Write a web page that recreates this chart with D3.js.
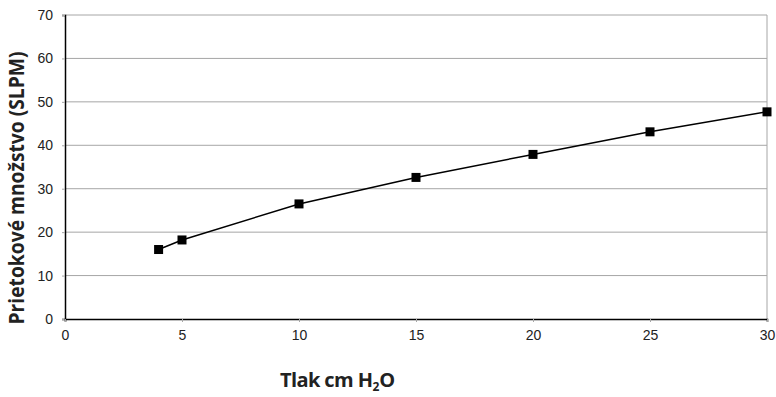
<!DOCTYPE html>
<head>
  <meta charset="utf-8">
  <script src="https://d3js.org/d3.v7.min.js"></script>
  <style>
    body { margin:0; background:white; }
    svg { display:block; }
    .tick text { font-family: "Liberation Sans", Arial, sans-serif; font-size: 14px; fill: #222; }
    .lbl { font-family: "Open Sans", sans-serif; font-weight: bold; fill: #222; }
  </style>
</head>
<body>
<script>
  var width = 776, height = 397;

  var pressure = [4, 5, 10, 15, 20, 25, 30];
  var flow = [16.0, 18.2, 26.5, 32.6, 37.9, 43.1, 47.7];
  var xTicks = [0, 5, 10, 15, 20, 25, 30];
  var yTicks = [0, 10, 20, 30, 40, 50, 60, 70];

  var m = {left: 65, right: 9, top: 15, bottom: 78};

  var svg = d3.select("body").append("svg")
    .attr("width", width).attr("height", height);

  var x = d3.scaleLinear().domain([0, 30]).range([m.left, width - m.right]);
  var y = d3.scaleLinear().domain([0, 70]).range([height - m.bottom, m.top]);

  // gridlines
  svg.append("g").selectAll("line")
    .data(yTicks.slice(1))
    .enter().append("line")
    .attr("x1", x(0)).attr("x2", x(30))
    .attr("y1", function(d) { return y(d); })
    .attr("y2", function(d) { return y(d); })
    .attr("stroke", "#a6a6a6").attr("stroke-width", 1);

  // right border
  svg.append("line")
    .attr("x1", x(30)).attr("x2", x(30))
    .attr("y1", y(0)).attr("y2", y(70))
    .attr("stroke", "#a6a6a6");

  var yAxis = svg.append("g")
    .attr("transform", "translate(" + x(0) + ",0)")
    .call(d3.axisLeft(y).tickValues(yTicks).tickSize(3).tickPadding(9));
  yAxis.select(".domain").attr("stroke", "black").attr("stroke-width", 1.5);
  yAxis.selectAll(".tick line").attr("stroke", "#a6a6a6");

  var xAxis = svg.append("g")
    .attr("transform", "translate(0," + y(0) + ")")
    .call(d3.axisBottom(x).tickValues(xTicks).tickSize(3).tickPadding(8));
  xAxis.select(".domain").attr("stroke", "black").attr("stroke-width", 1.5);
  xAxis.selectAll(".tick line").attr("stroke", "#a6a6a6");

  var pts = pressure.map(function(p, i) { return [p, flow[i]]; });

  svg.append("path")
    .datum(pts)
    .attr("fill", "none")
    .attr("stroke", "black")
    .attr("stroke-width", 1.5)
    .attr("d", d3.line()
      .x(function(d) { return x(d[0]); })
      .y(function(d) { return y(d[1]); }));

  svg.selectAll("rect.pt")
    .data(pts)
    .enter().append("rect")
    .attr("class", "pt")
    .attr("x", function(d) { return x(d[0]) - 4.5; })
    .attr("y", function(d) { return y(d[1]) - 4.5; })
    .attr("width", 9).attr("height", 9)
    .attr("fill", "black");

  // axis titles
  svg.append("text")
    .attr("class", "lbl")
    .attr("transform", "translate(24,188) rotate(-90)")
    .attr("text-anchor", "middle")
    .attr("font-size", 21)
    .attr("textLength", 273)
    .attr("lengthAdjust", "spacingAndGlyphs")
    .text("Prietokové množstvo (SLPM)");

  // x title as separate pieces so the subscript sits cleanly
  var t1 = svg.append("text")
    .attr("class", "lbl")
    .attr("x", 280).attr("y", 387)
    .attr("font-size", 20)
    .attr("letter-spacing", -0.6)
    .text("Tlak cm H");
  var w1 = t1.node().getComputedTextLength();
  var t2 = svg.append("text")
    .attr("class", "lbl")
    .attr("x", 280 + w1).attr("y", 391)
    .attr("font-size", 12)
    .text("2");
  var w2 = t2.node().getComputedTextLength();
  svg.append("text")
    .attr("class", "lbl")
    .attr("x", 280 + w1 + w2).attr("y", 387)
    .attr("font-size", 20)
    .text("O");
</script>
</body>
